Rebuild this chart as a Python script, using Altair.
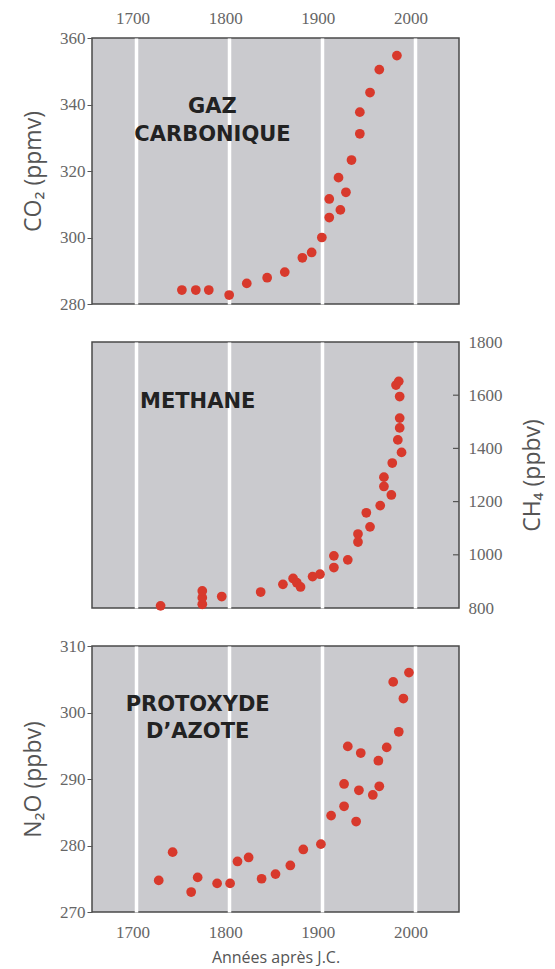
import altair as alt
import pandas as pd

# ---------------- data ----------------
x_ticks = [1700, 1800, 1900, 2000]

co2_year = [1749, 1764, 1778, 1800, 1819, 1841, 1860, 1879, 1889, 1900, 1908,
            1908, 1918, 1920, 1926, 1932, 1941, 1941, 1952, 1962, 1981]
co2_ppmv = [284.2, 284.2, 284.2, 282.7, 286.2, 287.9, 289.6, 293.9, 295.5, 300.0,
            306.0, 311.6, 318.0, 308.3, 313.6, 323.3, 331.2, 337.7, 343.6, 350.5, 354.7]

ch4_year = [1726, 1771, 1771, 1771, 1792, 1834, 1858, 1869, 1873, 1877, 1890,
            1898, 1913, 1913, 1928, 1939, 1939, 1952, 1948, 1963, 1975, 1967,
            1967, 1976, 1986, 1982, 1984, 1984, 1984, 1980, 1983]
ch4_ppbv = [808, 814, 839, 864, 843, 860, 889, 911, 895, 879, 918,
            927, 952, 996, 981, 1048, 1078, 1105, 1158, 1185, 1225, 1257,
            1292, 1345, 1385, 1432, 1477, 1514, 1595, 1638, 1652]

n2o_year = [1724, 1739, 1759, 1766, 1787, 1801, 1809, 1821, 1835, 1850, 1866,
            1880, 1899, 1910, 1924, 1924, 1928, 1937, 1940, 1942, 1955, 1961,
            1962, 1970, 1977, 1983, 1988, 1994]
n2o_ppbv = [274.75, 279.0, 273.0, 275.2, 274.3, 274.3, 277.6, 278.2, 275.0, 275.7,
            277.0, 279.4, 280.2, 284.5, 285.9, 289.25, 294.9, 283.6, 288.3, 293.9,
            287.6, 292.75, 288.9, 294.75, 304.6, 297.1, 302.1, 306.0]

co2_ticks = [280, 300, 320, 340, 360]
ch4_ticks = [800, 1000, 1200, 1400, 1600, 1800]
ch4_inner_ticks = [1000, 1200, 1400, 1600]
n2o_ticks = [270, 280, 290, 300, 310]

co2_label = ["GAZ", "CARBONIQUE"]
co2_label_year = [1782, 1782]
co2_label_val = [339.2, 330.8]
ch4_label = ["METHANE"]
ch4_label_year = [1766]
ch4_label_val = [1574]
n2o_label = ["PROTOXYDE", "D\u2019AZOTE"]
n2o_label_year = [1766, 1766]
n2o_label_val = [301.2, 297.0]

# ---------------- style ----------------
W, H = 367, 266
XDOM = [1652, 2048]
DOT = "#d8392c"
LABEL_FONT = "Liberation Serif"
LABEL_SIZE = 17
LABEL_COLOR = "#666666"
TITLE_FONT = "Open Sans"
TITLE_COLOR = "#555555"
TITLE_SIZE = 23


def xscale():
    return alt.Scale(domain=XDOM, nice=False, zero=False)


def yscale(dom):
    return alt.Scale(domain=dom, nice=False, zero=False)


def lab_axis(**kw):
    base = dict(labelFont=LABEL_FONT, labelFontSize=LABEL_SIZE, labelColor=LABEL_COLOR,
                labelFlush=False, labelOverlap=False, domain=False, format="d",
                titleFont=TITLE_FONT, titleFontWeight="normal", titleColor=TITLE_COLOR)
    base.update(kw)
    return alt.Axis(**base)


def panel(df, lab_df, ydom, xaxis, yaxis, extra=None):
    pts = alt.Chart(df).mark_circle(size=95, color=DOT, opacity=1).encode(
        x=alt.X("year:Q", scale=xscale(), axis=xaxis),
        y=alt.Y("val:Q", scale=yscale(ydom), axis=yaxis),
    )
    txt = alt.Chart(lab_df).mark_text(
        font="DejaVu Sans", fontWeight="bold", fontSize=21, color="#222222",
        align="center", baseline="middle"
    ).encode(
        x=alt.X("year:Q", scale=xscale(), axis=xaxis),
        y=alt.Y("val:Q", scale=yscale(ydom), axis=yaxis),
        text="label:N",
    )
    layers = [pts, txt]
    if extra is not None:
        layers.append(extra)
    return alt.layer(*layers).properties(width=W, height=H)


co2_df = pd.DataFrame({"year": co2_year, "val": co2_ppmv})
ch4_df = pd.DataFrame({"year": ch4_year, "val": ch4_ppbv})
n2o_df = pd.DataFrame({"year": n2o_year, "val": n2o_ppbv})
co2_lab = pd.DataFrame({"year": co2_label_year, "val": co2_label_val, "label": co2_label})
ch4_lab = pd.DataFrame({"year": ch4_label_year, "val": ch4_label_val, "label": ch4_label})
n2o_lab = pd.DataFrame({"year": n2o_label_year, "val": n2o_label_val, "label": n2o_label})

grid_kw = dict(grid=True, gridColor="white", gridWidth=3.5, gridOpacity=1)

# Panel 1: CO2
p1 = panel(
    co2_df, co2_lab, [280, 360],
    lab_axis(orient="top", values=x_ticks, ticks=False, labelPadding=11, labelOffset=-4,
             title=None, **grid_kw),
    lab_axis(orient="left", values=co2_ticks, grid=False, tickSize=5, tickColor="#555555",
             labelPadding=2, title="CO\u2082 (ppmv)", titleFontSize=TITLE_SIZE, titlePadding=14),
)

# Panel 2: CH4 (right axis, inward ticks)
ch4_xaxis = lab_axis(orient="bottom", values=x_ticks, labels=False, ticks=False, title=None,
                     **grid_kw)
ch4_yaxis = lab_axis(orient="right", values=ch4_ticks, grid=False, ticks=False, labelPadding=9,
                     title="CH\u2084 (ppbv)", titleFontSize=TITLE_SIZE, titleAngle=270,
                     titlePadding=42)
ch4_tick_df = pd.DataFrame({"val": ch4_inner_ticks})
inner_ticks = alt.Chart(ch4_tick_df).mark_rule(color="#555555", strokeWidth=1.2).encode(
    y=alt.Y("val:Q", scale=yscale([800, 1800]), axis=ch4_yaxis),
    x=alt.value(W - 6),
    x2=alt.value(W),
)
p2 = panel(ch4_df, ch4_lab, [800, 1800], ch4_xaxis, ch4_yaxis, extra=inner_ticks)

# Panel 3: N2O
p3 = panel(
    n2o_df, n2o_lab, [270, 310],
    lab_axis(orient="bottom", values=x_ticks, ticks=False, labelPadding=12, labelOffset=-4,
             title="Ann\u00e9es apr\u00e8s J.C.", titleFontSize=16, titlePadding=9,
             **grid_kw),
    lab_axis(orient="left", values=n2o_ticks, grid=False, tickSize=5, tickColor="#555555",
             labelPadding=2, title="N\u2082O (ppbv)", titleFontSize=TITLE_SIZE, titlePadding=14),
)

chart = alt.vconcat(p1, p2, p3, spacing=19).properties(
    padding={"left": 13, "top": 0, "right": 0, "bottom": 0}
).configure(background="white").configure_view(
    fill="#cacace", stroke="#4a4a4a", strokeWidth=1.5
)

chart.save("out.html", embed_options={"renderer": "svg", "actions": False})
